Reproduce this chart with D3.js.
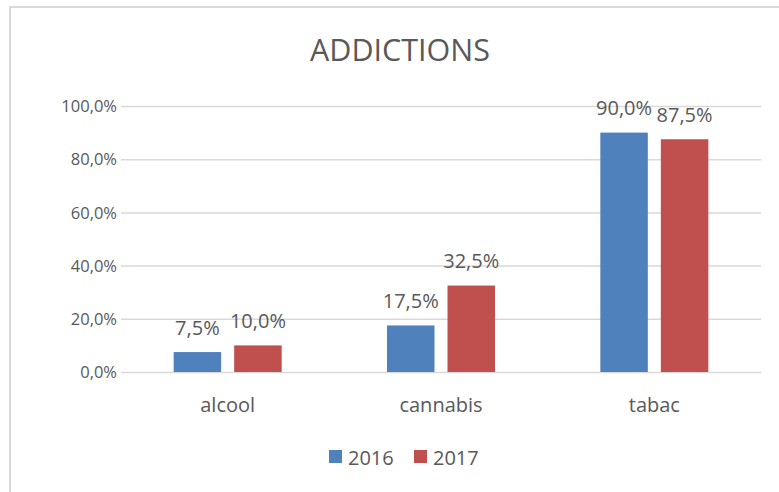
<!DOCTYPE html>
<html>
<head>
<meta charset="utf-8">
<script src="https://cdn.jsdelivr.net/npm/d3@7"></script>
<style>
  body { margin: 0; background: #fff; }
  svg text { font-family: "Open Sans", "Noto Sans", sans-serif; fill: #595959; }
</style>
</head>
<body>
<div id="chart"></div>
<script>
// data
var categories = ["alcool", "cannabis", "tabac"];
var seriesNames = ["2016", "2017"];
var values2016 = [7.5, 17.5, 90.0];
var values2017 = [10.0, 32.5, 87.5];
var yTicks = [0, 20, 40, 60, 80, 100];
var colors = ["#4F81BD", "#C0504D"];

var W = 779, H = 492;
var plot = { left: 121, right: 761, top: 106, bottom: 372 };

function fmt(v) {
    return v.toFixed(1).replace(".", ",") + "%";
}

var svg = d3.select("#chart").append("svg")
    .attr("width", W)
    .attr("height", H);

// chart frame (only top/left visible, rest is cropped)
svg.append("rect")
    .attr("x", 10).attr("y", 7)
    .attr("width", 900).attr("height", 700)
    .attr("fill", "none")
    .attr("stroke", "#d9d9d9")
    .attr("stroke-width", 2);

// title
svg.append("text")
    .attr("x", 400).attr("y", 61)
    .attr("text-anchor", "middle")
    .style("font-size", "30.5px")
    .text("ADDICTIONS");

var y = d3.scaleLinear().domain([0, 100]).range([plot.bottom, plot.top]);

var x0 = d3.scaleBand().domain(categories).range([plot.left, plot.right]);

// y axis: gridlines + labels
var yAxis = d3.axisLeft(y)
    .tickValues(yTicks)
    .tickSize(-(plot.right - plot.left))
    .tickPadding(4)
    .tickFormat(fmt);

var gy = svg.append("g")
    .attr("transform", "translate(" + plot.left + ",0)")
    .call(yAxis);
gy.select(".domain").remove();
gy.selectAll(".tick line").attr("stroke", "#d9d9d9").attr("stroke-width", 1.5);
gy.selectAll(".tick text")
    .attr("dy", "0.34em")
    .attr("fill", "#595959")
    .style("font-size", "16.5px")
    .style("font-family", "'Open Sans', sans-serif");

// x axis labels
var xAxis = d3.axisBottom(x0).tickSize(0).tickPadding(0);
var gx = svg.append("g")
    .attr("transform", "translate(0," + plot.bottom + ")")
    .call(xAxis);
gx.select(".domain").remove();
gx.selectAll(".tick text")
    .attr("y", 39.5)
    .attr("dy", 0)
    .attr("fill", "#595959")
    .style("font-size", "20px")
    .style("font-family", "'Open Sans', sans-serif");

// bars
var series = [values2016, values2017];
var groupW = 108;
var x1 = d3.scaleBand().domain(seriesNames).range([0, groupW]).paddingInner(0.215);

seriesNames.forEach(function (name, s) {
    var g = svg.append("g").attr("class", "series-" + name);
    var rows = categories.map(function (c, i) { return { cat: c, v: series[s][i] }; });

    g.selectAll("rect")
        .data(rows)
        .enter().append("rect")
        .attr("x", function (d) { return x0(d.cat) + x0.bandwidth() / 2 - groupW / 2 + x1(name); })
        .attr("y", function (d) { return y(d.v); })
        .attr("width", x1.bandwidth())
        .attr("height", function (d) { return y(0) - y(d.v); })
        .attr("fill", colors[s]);

    g.selectAll("text")
        .data(rows)
        .enter().append("text")
        .attr("x", function (d) { return x0(d.cat) + x0.bandwidth() / 2 - groupW / 2 + x1(name) + x1.bandwidth() / 2; })
        .attr("y", function (d) { return y(d.v) - 17.5; })
        .attr("text-anchor", "middle")
        .style("font-size", "20px")
        .text(function (d) { return fmt(d.v); });
});

// legend
var legendX = [329, 414];
var legend = svg.append("g");
seriesNames.forEach(function (name, s) {
    legend.append("rect")
        .attr("x", legendX[s]).attr("y", 450)
        .attr("width", 13).attr("height", 13)
        .attr("fill", colors[s]);
    legend.append("text")
        .attr("x", legendX[s] + 19).attr("y", 465)
        .style("font-size", "20px")
        .text(name);
});
</script>
</body>
</html>
